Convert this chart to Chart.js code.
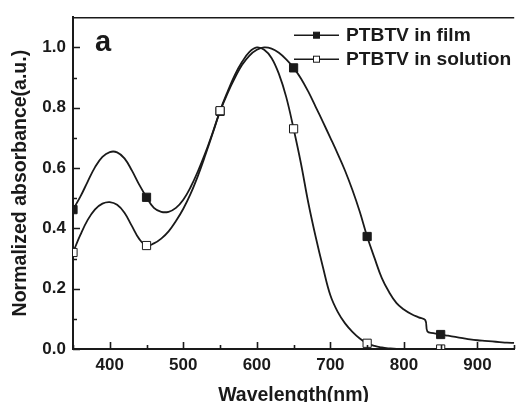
<!DOCTYPE html>
<html>
<head>
<meta charset="utf-8">
<script src="https://cdn.jsdelivr.net/npm/chart.js@4.4.1/dist/chart.umd.min.js"></script>
<style>
  html, body { margin: 0; padding: 0; background: #fff; overflow: hidden; }
  #wrap { width: 516px; height: 402px; overflow: hidden; }
  canvas { display: block; }
</style>
</head>
<body>
<div id="wrap"><canvas id="chart" width="521" height="405"></canvas></div>
<script>
// values
const filmWavelengths = [
  350, 360, 370, 380, 390, 400, 410, 420, 430, 440, 450, 460, 470, 480, 490,
  500, 510, 520, 530, 540, 550, 560, 570, 580, 590, 600, 610, 620, 630, 640,
  650, 660, 670, 680, 690, 700, 710, 720, 730, 740, 750, 760, 770, 780, 790,
  800, 810, 820, 829, 832, 840, 850, 860, 870, 880, 890, 900, 910, 920, 930,
  940, 950
];
const filmAbsorbance = [
  0.462, 0.505, 0.555, 0.603, 0.637, 0.653, 0.652, 0.632, 0.592, 0.545, 0.503, 0.468, 0.455, 0.455, 0.468,
  0.495, 0.537, 0.590, 0.650, 0.718, 0.788, 0.847, 0.898, 0.942, 0.973, 0.992, 1.000, 0.996, 0.982, 0.960,
  0.932, 0.897, 0.853, 0.803, 0.752, 0.700, 0.647, 0.591, 0.527, 0.455, 0.373, 0.302, 0.235, 0.188, 0.152,
  0.131, 0.116, 0.105, 0.096, 0.058, 0.053, 0.048, 0.044, 0.040, 0.036, 0.032, 0.029, 0.027, 0.025, 0.023,
  0.021, 0.020
];
const solutionWavelengths = [
  350, 360, 370, 380, 390, 400, 410, 420, 430, 440, 450, 460, 470, 480, 490,
  500, 510, 520, 530, 540, 550, 560, 570, 580, 590, 600, 610, 620, 630, 640,
  650, 660, 670, 680, 690, 700, 710, 720, 730, 740, 750, 760, 770, 780, 790,
  800, 850, 900, 950
];
const solutionAbsorbance = [
  0.320, 0.378, 0.428, 0.463, 0.482, 0.487, 0.478, 0.452, 0.408, 0.365, 0.343, 0.350, 0.366, 0.390, 0.424,
  0.465, 0.515, 0.575, 0.643, 0.715, 0.790, 0.852, 0.908, 0.952, 0.985, 1.000, 0.992, 0.965, 0.912, 0.835,
  0.730, 0.615, 0.485, 0.372, 0.270, 0.178, 0.123, 0.085, 0.057, 0.035, 0.019, 0.010, 0.005, 0.002, 0.000,
  0.000, 0.000, 0.000, 0.000
];
const markerWavelengths = [350, 450, 550, 650, 750, 850];
const xTickValues = [350, 400, 450, 500, 550, 600, 650, 700, 750, 800, 850, 900, 950];
const yTickValues = [0, 0.1, 0.2, 0.3, 0.4, 0.5, 0.6, 0.7, 0.8, 0.9, 1.0];
const seriesNames = ["PTBTV in film", "PTBTV in solution"];
const panelLabel = "a";

const FONT = "'Liberation Sans', Arial, sans-serif";
const INK = "#1a1a1a";

const toPoints = (xs, ys) => xs.map((x, i) => ({ x, y: ys[i] }));
const markerRadius = (ctx) =>
  ctx.raw && markerWavelengths.includes(ctx.raw.x) ? 5.8 : 0;

const isMajorX = (v) => v % 100 === 0;
const isMajorY = (v) => Math.round(v * 10) % 2 === 0;

// inward ticks, top frame line, panel letter and legend
const decorPlugin = {
  id: "decor",
  afterDraw(chart) {
    const { ctx, chartArea, scales } = chart;
    const xs = scales.x;
    const ys = scales.y;
    ctx.save();
    ctx.strokeStyle = INK;
    ctx.lineWidth = 1.6;

    ctx.beginPath();
    ctx.moveTo(chartArea.left, chartArea.top + 0.5);
    ctx.lineTo(chartArea.right, chartArea.top + 0.5);
    ctx.stroke();

    ctx.beginPath();
    xTickValues.forEach((v) => {
      const px = Math.round(xs.getPixelForValue(v)) + 0.5;
      const len = isMajorX(v) ? 7 : 4;
      ctx.moveTo(px, chartArea.bottom);
      ctx.lineTo(px, chartArea.bottom - len);
    });
    yTickValues.forEach((v) => {
      const py = Math.round(ys.getPixelForValue(v)) + 0.5;
      const len = isMajorY(v) ? 7 : 4;
      ctx.moveTo(chartArea.left, py);
      ctx.lineTo(chartArea.left + len, py);
    });
    ctx.stroke();

    ctx.fillStyle = INK;
    ctx.font = "bold 29px " + FONT;
    ctx.textBaseline = "alphabetic";
    ctx.fillText(panelLabel, chartArea.left + 22, chartArea.top + 34);

    // legend
    ctx.font = "bold 19.2px " + FONT;
    ctx.textBaseline = "middle";
    chart.data.datasets.forEach((ds, i) => {
      const cy = chartArea.top + 18 + i * 24;
      const x0 = 294;
      ctx.strokeStyle = INK;
      ctx.lineWidth = 1.6;
      ctx.beginPath();
      ctx.moveTo(x0, cy);
      ctx.lineTo(x0 + 45, cy);
      ctx.stroke();
      const s = 6;
      ctx.fillStyle = ds.pointBackgroundColor;
      ctx.fillRect(x0 + 22.5 - s / 2, cy - s / 2, s, s);
      ctx.lineWidth = 1;
      ctx.strokeRect(x0 + 22.5 - s / 2, cy - s / 2, s, s);
      ctx.fillStyle = INK;
      ctx.fillText(seriesNames[i], x0 + 52, cy + 1);
    });
    ctx.restore();
  },
};

new Chart(document.getElementById("chart"), {
  type: "line",
  data: {
    datasets: [
      {
        label: seriesNames[0],
        data: toPoints(filmWavelengths, filmAbsorbance),
        order: 1,
        borderColor: INK,
        borderWidth: 1.8,
        tension: 0.4,
        pointStyle: "rect",
        pointRadius: markerRadius,
        pointBackgroundColor: INK,
        pointBorderColor: INK,
        pointBorderWidth: 1,
      },
      {
        label: seriesNames[1],
        data: toPoints(solutionWavelengths, solutionAbsorbance),
        order: 0,
        borderColor: INK,
        borderWidth: 1.8,
        tension: 0.4,
        pointStyle: "rect",
        pointRadius: markerRadius,
        pointBackgroundColor: "#ffffff",
        pointBorderColor: INK,
        pointBorderWidth: 1,
      },
    ],
  },
  options: {
    responsive: false,
    animation: false,
    events: [],
    layout: { padding: { top: 14, right: 0, left: 0, bottom: 0 } },
    plugins: { legend: { display: false }, tooltip: { enabled: false } },
    scales: {
      x: {
        type: "linear",
        min: 350,
        max: 950,
        afterBuildTicks: (scale) => {
          scale.ticks = xTickValues.map((value) => ({ value }));
        },
        afterFit: (scale) => {
          scale.height = 56;
        },
        grid: { display: false, drawTicks: false },
        border: { display: true, color: INK, width: 2 },
        ticks: {
          padding: 6,
          color: INK,
          font: { family: FONT, size: 17, weight: "bold" },
          maxRotation: 0,
          autoSkip: false,
          callback: (v) => (isMajorX(v) ? String(v) : ""),
        },
        title: {
          display: true,
          text: "Wavelength(nm)",
          color: INK,
          font: { family: FONT, size: 19.5, weight: "bold", lineHeight: 1 },
          padding: { top: 0, bottom: 0 },
        },
      },
      y: {
        type: "linear",
        min: 0,
        max: 1.1,
        afterBuildTicks: (scale) => {
          scale.ticks = yTickValues.map((value) => ({ value }));
        },
        afterFit: (scale) => {
          scale.width = 73;
        },
        grid: { display: false, drawTicks: false },
        border: { display: true, color: INK, width: 2 },
        ticks: {
          padding: 7,
          color: INK,
          font: { family: FONT, size: 17, weight: "bold" },
          autoSkip: false,
          callback: (v) => (isMajorY(v) ? v.toFixed(1) : ""),
        },
        title: {
          display: true,
          text: "Normalized absorbance(a.u.)",
          color: INK,
          font: { family: FONT, size: 19.5, weight: "bold", lineHeight: 1 },
          padding: { top: 11, bottom: 0 },
        },
      },
    },
  },
  plugins: [decorPlugin],
});
</script>
</body>
</html>
